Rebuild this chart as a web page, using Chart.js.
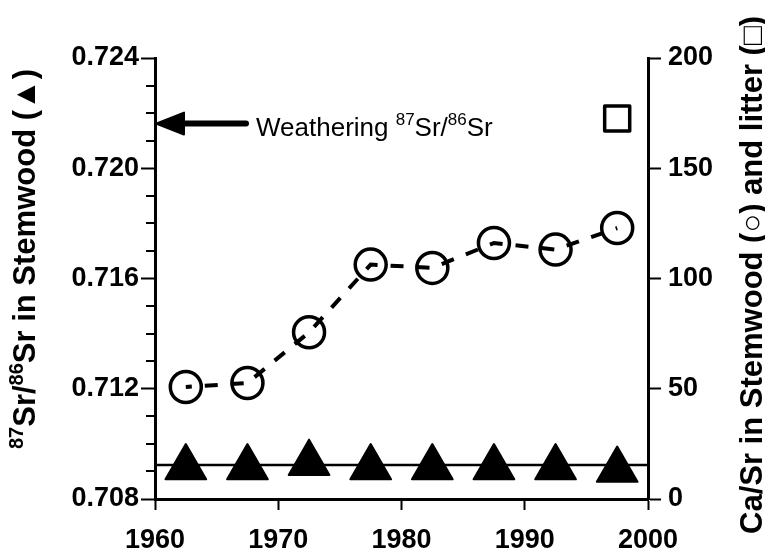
<!DOCTYPE html>
<html><head><meta charset="utf-8">
<script src="https://cdn.jsdelivr.net/npm/chart.js@4"></script>
<style>html,body{margin:0;padding:0;background:#fff}canvas{display:block}</style>
</head><body>
<canvas id="c" width="765" height="549"></canvas>
<script>
// ---- data ----
const years = [1962.5, 1967.5, 1972.5, 1977.5, 1982.5, 1987.5, 1992.5, 1997.5];
const srRatio = [0.70914, 0.70914, 0.70930, 0.70914, 0.70914, 0.70914, 0.70914, 0.70905];
const caSr = [50.8, 52.6, 75.6, 106.3, 104.8, 116.1, 113.1, 122.9];
const litterYear = [1997.5];
const litterCaSr = [172.6];
const refLineYears = [1960, 2000];
const refLineSr = [0.70923, 0.70923];
const weatheringSr = 0.72162;
const xTicks = [1960, 1970, 1980, 1990, 2000];
const xTickLabels = ['1960', '1970', '1980', '1990', '2000'];
const leftTicks = [0.708, 0.712, 0.716, 0.720, 0.724];
const leftTickLabels = ['0.708', '0.712', '0.716', '0.720', '0.724'];
const leftMinorTicks = [0.709, 0.710, 0.711, 0.713, 0.714, 0.715, 0.717, 0.718, 0.719, 0.721, 0.722, 0.723];
const rightTicks = [0, 50, 100, 150, 200];
const rightTickLabels = ['0', '50', '100', '150', '200'];
const leftTitle = [['87', true], ['Sr/', false], ['86', true], ['Sr in Stemwood (▲)', false]];
const rightTitle = [['Ca/Sr in Stemwood (○) and litter (□)', false]];
const noteText = [['Weathering ', false], ['87', true], ['Sr/', false], ['86', true], ['Sr', false]];

// ---- drawing helpers ----
const FONT = '"Liberation Sans", Arial, sans-serif';
function segFont(sup, size, weight) {
  return weight + ' ' + (sup ? Math.round(size * 0.64) : size) + 'px ' + FONT;
}
function richWidth(ctx, segs, size, weight) {
  let w = 0;
  segs.forEach(([t, sup]) => { ctx.font = segFont(sup, size, weight); w += ctx.measureText(t).width; });
  return w;
}
function drawRich(ctx, segs, x0, size, weight) {
  let x = x0;
  ctx.textBaseline = 'alphabetic';
  ctx.textAlign = 'left';
  segs.forEach(([t, sup]) => {
    ctx.font = segFont(sup, size, weight);
    ctx.fillText(t, x, sup ? -size * 0.4 : 0);
    x += ctx.measureText(t).width;
  });
}

const joinPlugin = {
  id: 'joinPlugin',
  beforeDatasetDraw(chart) { chart.ctx.lineJoin = 'round'; },
  afterDatasetDraw(chart) { chart.ctx.lineJoin = 'miter'; }
};

const annPlugin = {
  id: 'annPlugin',
  afterDraw(chart) {
    const { ctx, chartArea: a, scales: { y } } = chart;
    ctx.save();
    ctx.strokeStyle = '#000';
    ctx.fillStyle = '#000';
    // minor ticks on left axis
    ctx.lineWidth = 2;
    leftMinorTicks.forEach(v => {
      const py = Math.round(y.getPixelForValue(v));
      ctx.beginPath(); ctx.moveTo(a.left, py); ctx.lineTo(a.left - 9, py); ctx.stroke();
    });
    // arrow
    const ay = y.getPixelForValue(weatheringSr);
    const tip = a.left + 1, headLen = 28, headHalf = 11, tail = a.left + 91;
    ctx.lineWidth = 6; ctx.lineCap = 'round';
    ctx.beginPath(); ctx.moveTo(tip + headLen - 4, ay); ctx.lineTo(tail, ay); ctx.stroke();
    ctx.lineJoin = 'round'; ctx.lineWidth = 2;
    ctx.beginPath(); ctx.moveTo(tip, ay); ctx.lineTo(tip + headLen, ay - headHalf); ctx.lineTo(tip + headLen, ay + headHalf); ctx.closePath();
    ctx.fill(); ctx.stroke();
    // annotation text
    ctx.save();
    ctx.translate(a.left + 101, ay + 12);
    drawRich(ctx, noteText, 0, 26, 'normal');
    ctx.restore();
    // left title
    ctx.save();
    ctx.translate(35, 259); ctx.rotate(-Math.PI / 2);
    drawRich(ctx, leftTitle, -richWidth(ctx, leftTitle, 31, 'bold') / 2, 31, 'bold');
    ctx.restore();
    // right title
    ctx.save();
    ctx.translate(762, 275); ctx.rotate(-Math.PI / 2);
    drawRich(ctx, rightTitle, -richWidth(ctx, rightTitle, 31, 'bold') / 2, 31, 'bold');
    ctx.restore();
    ctx.restore();
  }
};

const tickFont = { family: FONT, size: 27, weight: 'bold' };
function setTicks(arr) { return s => { s.ticks = arr.map(v => ({ value: v })); }; }
function labelFrom(vals, labels) { return (v) => { const i = vals.findIndex(t => Math.abs(t - v) < 1e-9); return i >= 0 ? labels[i] : ''; }; }

new Chart(document.getElementById('c'), {
  type: 'scatter',
  data: {
    datasets: [
      { label: 'Sr', data: years.map((x, i) => ({ x, y: srRatio[i] })), yAxisID: 'y',
        pointStyle: 'triangle', pointRadius: 23.5, pointBorderWidth: 2,
        pointBackgroundColor: '#000', pointBorderColor: '#000', showLine: false },
      { label: 'ref', data: refLineYears.map((x, i) => ({ x, y: refLineSr[i] })), yAxisID: 'y',
        showLine: true, borderColor: '#000', borderWidth: 2.5, pointRadius: 0, fill: false },
      { label: 'CaSr', data: years.map((x, i) => ({ x, y: caSr[i] })), yAxisID: 'y2',
        showLine: true, borderColor: '#000', borderWidth: 4, borderDash: [13, 13], borderDashOffset: 7,
        pointStyle: 'circle', pointRadius: 15.5, pointBorderWidth: 3.5,
        pointBackgroundColor: 'rgba(0,0,0,0)', pointBorderColor: '#000', fill: false },
      { label: 'litter', data: litterYear.map((x, i) => ({ x, y: litterCaSr[i] })), yAxisID: 'y2',
        pointStyle: 'rect', pointRadius: 17.7, pointBorderWidth: 3.5,
        pointBackgroundColor: 'rgba(0,0,0,0)', pointBorderColor: '#000', showLine: false }
    ]
  },
  options: {
    responsive: false, devicePixelRatio: 1, animation: false, events: [],
    layout: { padding: { top: 58, left: 0, right: 0, bottom: 0 } },
    plugins: { legend: { display: false }, tooltip: { enabled: false } },
    scales: {
      x: {
        type: 'linear', min: 1960, max: 2000,
        afterBuildTicks: setTicks(xTicks), afterFit: s => { s.height = 50; },
        grid: { drawOnChartArea: false, drawTicks: true, tickLength: 11, tickWidth: 2, tickColor: '#000' },
        border: { display: true, color: '#000', width: 3 },
        ticks: { color: '#000', font: tickFont, padding: 14, maxRotation: 0, autoSkip: false,
                 callback: labelFrom(xTicks, xTickLabels) }
      },
      y: {
        position: 'left', min: 0.708, max: 0.724,
        afterBuildTicks: setTicks(leftTicks), afterFit: s => { s.width = 155; },
        grid: { drawOnChartArea: false, drawTicks: true, tickLength: 14, tickWidth: 2, tickColor: '#000' },
        border: { display: true, color: '#000', width: 3 },
        ticks: { color: '#000', font: tickFont, padding: 2, autoSkip: false,
                 callback: labelFrom(leftTicks, leftTickLabels) }
      },
      y2: {
        position: 'right', min: 0, max: 200,
        afterBuildTicks: setTicks(rightTicks), afterFit: s => { s.width = 117; },
        grid: { drawOnChartArea: false, drawTicks: true, tickLength: 13, tickWidth: 2, tickColor: '#000' },
        border: { display: true, color: '#000', width: 3 },
        ticks: { color: '#000', font: tickFont, padding: 7, autoSkip: false,
                 callback: labelFrom(rightTicks, rightTickLabels) }
      }
    }
  },
  plugins: [joinPlugin, annPlugin]
});
</script>
</body></html>
